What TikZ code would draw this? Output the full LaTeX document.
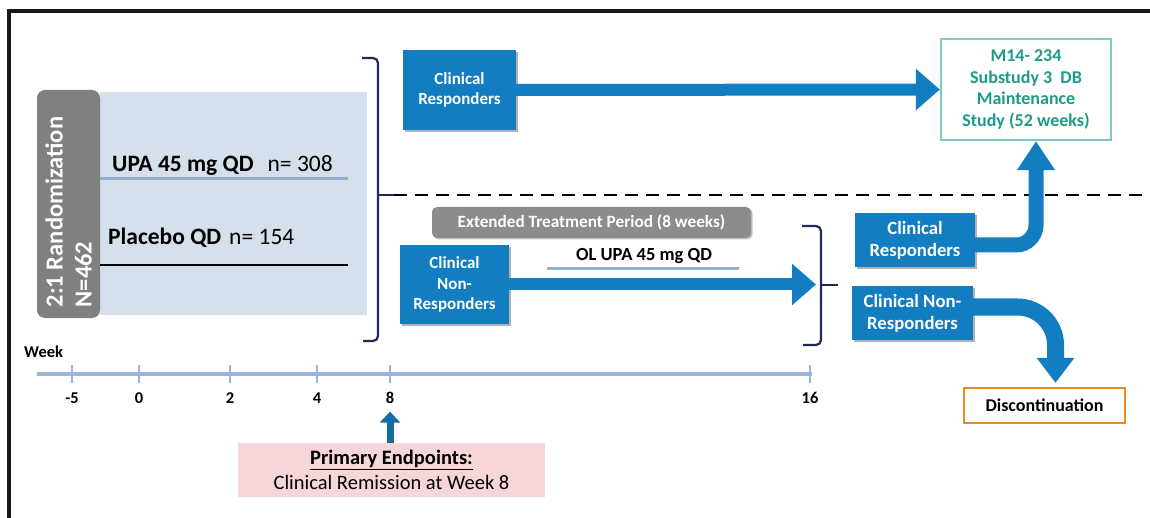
\documentclass[tikz,border=0pt]{standalone}
\usepackage{fontspec}
\setmainfont{Carlito}
\usetikzlibrary{arrows.meta,calc,shadows}
\definecolor{boxblue}{RGB}{18,125,192}
\definecolor{panelblue}{RGB}{214,224,236}
\definecolor{linelblue}{RGB}{146,176,212}
\definecolor{randgray}{RGB}{128,128,128}
\definecolor{extgray}{RGB}{140,140,140}
\definecolor{navy}{RGB}{30,42,90}
\definecolor{tealborder}{RGB}{122,204,190}
\definecolor{tealtext}{RGB}{28,156,136}
\definecolor{orangeb}{RGB}{233,139,42}
\definecolor{pinkfill}{RGB}{247,214,217}
\definecolor{tlblue}{RGB}{155,181,214}
\definecolor{darkblue}{RGB}{22,106,166}
\begin{document}
\begin{tikzpicture}[x=1pt,y=-1pt,
  blk/.style={fill=boxblue,text=white,font=\fontsize{17}{20.5}\selectfont\bfseries,align=center,inner sep=2pt,
    drop shadow={shadow xshift=2pt,shadow yshift=-2pt,opacity=0.3,fill=black}},
  blkbig/.style={blk,font=\fontsize{18.7}{22}\selectfont\bfseries},
  fatarrow/.style={draw=boxblue,line width=12pt,-{Triangle[length=24pt,width=40pt]}},
  bracel/.style={draw=navy,line width=2.2pt,rounded corners=5pt},
  tickmark/.style={draw=tlblue,line width=2.5pt},
  wk/.style={font=\fontsize{16.5}{19}\selectfont\bfseries,anchor=base},
  armtxt/.style={font=\fontsize{23.5}{28}\selectfont,anchor=base west,inner sep=0pt},
]
\useasboundingbox (0,0) rectangle (1150,518);
% frame
\draw[line width=4pt,black!90] (9,518) -- (9,11) -- (1150,11);

% left panel
\node[fill=panelblue,minimum width=267pt,minimum height=223pt,inner sep=0pt] (panel) at (233.5,203.5) {};
\node[fill=randgray,rounded corners=8pt,rotate=90,minimum width=228pt,minimum height=63pt,inner sep=0pt,
  text=white,font=\fontsize{24.5}{29}\selectfont\bfseries,align=left] (rand) at (68.5,204)
  {2:1 Randomization\hspace*{16pt}\\N=462};
\coordinate (upaS) at (100,179);
\coordinate (upaE) at (348,179);
\coordinate (plaS) at (100,265);
\coordinate (plaE) at (348,265);
\draw[draw=linelblue,line width=3pt] (upaS) -- (upaE);
\draw[draw=black,line width=2.5pt] (plaS) -- (plaE);
\node[armtxt] (upa) at (112,172) {\textbf{UPA 45 mg QD}\hspace{14pt}n= 308};
\node[armtxt] (pla) at (108,245) {\textbf{Placebo QD}\hspace{8pt}n= 154};

% big brace
\draw[bracel] (362,58) -- (378,58) -- (378,341) -- (363,341);
\coordinate (bigtip) at (378,195);
\coordinate (dashS) at (394,195);
\coordinate (dashE) at (1150,195);
\draw[draw=navy,line width=2.2pt] (bigtip) -- (dashS);
\draw[black,line width=2.8pt,dash pattern=on 13pt off 8pt] (dashS) -- (dashE);

% boxes
\node[blk,minimum width=113pt,minimum height=80pt] (cr1) at (459.5,90) {Clinical\\Responders};
\node[blk,minimum width=109pt,minimum height=79pt] (nr1) at (454.5,284.5) {Clinical\\Non-\\Responders};
\node[blkbig,minimum width=120pt,minimum height=54pt] (cr2) at (915,240) {Clinical\\Responders};
\node[blkbig,minimum width=121pt,minimum height=54pt] (nr2) at (912.5,313) {Clinical Non-\\Responders};
\node[draw=tealborder,line width=2.2pt,fill=white,minimum width=170pt,minimum height=101pt,align=center,
  text=tealtext,font=\fontsize{18}{21.7}\selectfont\bfseries] (m14) at (1026,89.5)
  {M14- 234\\Substudy 3\ \ DB\\Maintenance\\Study (52 weeks)};
\node[draw=orangeb,line width=2.2pt,fill=white,minimum width=161pt,minimum height=35pt,
  font=\fontsize{18}{20}\selectfont\bfseries] (disc) at (1044.5,405.5) {Discontinuation};
\node[fill=extgray,rounded corners=5pt,minimum width=319pt,minimum height=31pt,text=white,
  font=\fontsize{17.2}{20}\selectfont\bfseries,drop shadow={shadow xshift=1.5pt,shadow yshift=-1.5pt,opacity=0.25,fill=black}]
  (ext) at (591.5,222.5) {Extended Treatment Period (8 weeks)};
\node[font=\fontsize{18.5}{20}\selectfont\bfseries,anchor=base] (ol) at (644,261) {OL UPA 45 mg QD};
\coordinate (olS) at (547,269);
\coordinate (olE) at (739,269);
\draw[draw=linelblue,line width=3pt] (olS) -- (olE);

% small brace
\draw[bracel] (802,226) -- (821,226) -- (821,345) -- (803,345);
\coordinate (smalltip) at (821,285);
\coordinate (smalltipE) at (838,285);
\coordinate (b2) at (816,284.5);
\draw[draw=navy,line width=2.2pt] (smalltip) -- (smalltipE);

% arrows
\draw[fatarrow] (cr1.east) -- (m14.west);
\draw[fatarrow] (nr1.east) -- (b2);
\draw[fatarrow,line width=15pt,rounded corners=20pt,-{Triangle[length=29pt,width=36pt]}]
  ($(cr2.east)+(0,5)$) -| ($(m14.south)+(10,0)$);
\draw[fatarrow,line width=17pt,rounded corners=38pt,-{Triangle[length=25pt,width=36pt]}]
  ($(nr2.east)+(0,-6)$) -| ($(disc.north)+(11,-4)$);

% timeline
\node[font=\fontsize{16.5}{19}\selectfont\bfseries,anchor=base west,inner sep=0pt] (week) at (24,357) {Week};
\coordinate (tlS) at (37,374);
\coordinate (tlE) at (812,374);
\draw[draw=tlblue,line width=3.5pt] (tlS) -- (tlE);
\foreach \x/\l/\n in {72/-5/m5,139/0/w0,230/2/w2,317/4/w4,390/8/w8,810/16/w16}{
  \draw[tickmark] (\x,365) -- (\x,383);
  \node[wk] (l\n) at (\x,403) {\l};
}
\node[fill=pinkfill,minimum width=307pt,minimum height=54pt,align=center,
  font=\fontsize{20.5}{25}\selectfont] (prim) at (391.5,470)
  {\underline{\textbf{Primary Endpoints:}}\\Clinical Remission at Week 8};
\draw[draw=darkblue,line width=7pt,-{Triangle[length=11pt,width=20pt]}] (prim.north -| lw8) -- ($(lw8.south)+(0,5)$);
\end{tikzpicture}
\end{document}
